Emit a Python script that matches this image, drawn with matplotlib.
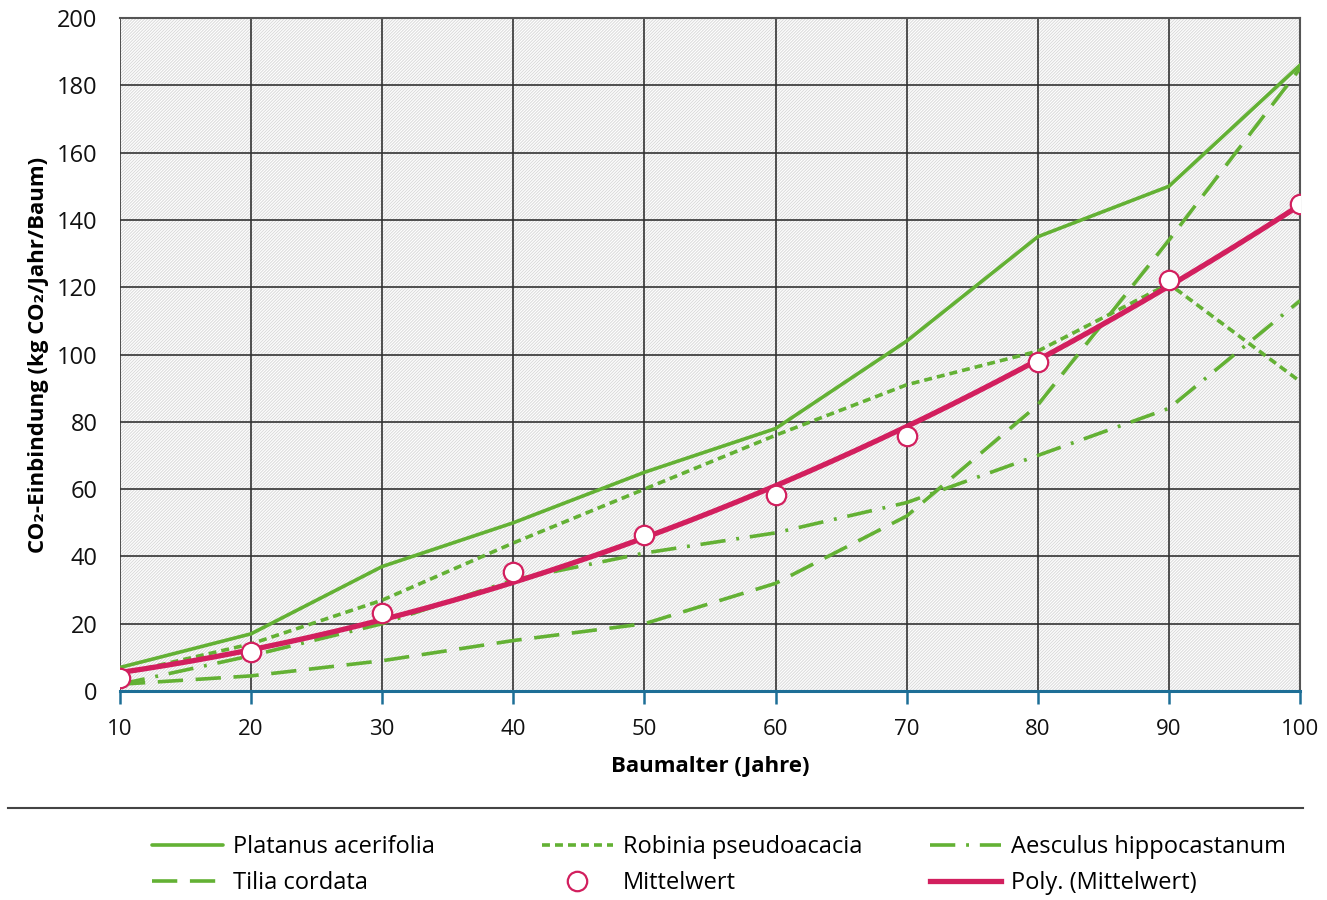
import matplotlib.pyplot as plt
import numpy as np
from matplotlib.patches import Rectangle
from matplotlib.lines import Line2D

plt.rcParams['font.family'] = ['Open Sans', 'DejaVu Sans']
plt.rcParams['hatch.linewidth'] = 0.7
plt.rcParams['hatch.color'] = '#dadada'

# Baumalter (Jahre)
alter = [10, 20, 30, 40, 50, 60, 70, 80, 90, 100]

# CO2-Einbindung in kg CO2/Jahr/Baum
platanus = [7, 17, 37, 50, 65, 78, 104, 135, 150, 186]
robinia = [5, 14, 27, 44, 60, 76, 91, 101, 121, 92]
aesculus = [2, 10.5, 20, 33, 41, 47, 56, 70, 84, 116]
tilia = [2, 4.5, 9, 15, 20, 32, 52, 85, 134, 185]

xticks = [10, 20, 30, 40, 50, 60, 70, 80, 90, 100]
yticks = [0, 20, 40, 60, 80, 100, 120, 140, 160, 180, 200]

green = '#63b134'
pink = '#d21f5e'

mittel = np.mean([platanus, robinia, aesculus, tilia], axis=0)
coef = np.polyfit(alter, mittel, 2)
xs = np.linspace(10, 100, 200)

fig = plt.figure(figsize=(13.27, 9), dpi=100)
ax = fig.add_axes([0.0904, 0.2322, 0.8893, 0.7478])

# hatched background
ax.add_patch(Rectangle((0, 0), 1, 1, transform=ax.transAxes, facecolor='white',
                       hatch='/' * 11, edgecolor='#dadada', linewidth=0, zorder=0))

l1, = ax.plot(alter, platanus, color=green, lw=2.6, solid_capstyle='round', zorder=3)
l2, = ax.plot(alter, robinia, color=green, lw=2.6, dashes=(2.2, 1.4), zorder=3)
l3, = ax.plot(alter, aesculus, color=green, lw=2.6, dashes=(7, 3, 0.8, 3), zorder=3)
l4, = ax.plot(alter, tilia, color=green, lw=2.6, dashes=(7, 3.5), zorder=3)
l6, = ax.plot(xs, np.polyval(coef, xs), color=pink, lw=3.8, zorder=4)
l5, = ax.plot(alter, mittel, ls='none', marker='o', ms=14, mfc='white', mec=pink,
              mew=1.6, zorder=5)

ax.set_xlim(10, 100)
ax.set_ylim(0, 200)
ax.set_xticks(xticks)
ax.set_yticks(yticks)
ax.grid(True, color='#333333', lw=1.2, zorder=1)
ax.set_axisbelow(True)

for s in ['top', 'right']:
    ax.spines[s].set_color('#555555')
    ax.spines[s].set_linewidth(1.5)
ax.spines['left'].set_visible(False)
ax.spines['bottom'].set_color('#1d6e96')
ax.spines['bottom'].set_linewidth(2.2)
ax.spines['bottom'].set_zorder(6)

ax.tick_params(axis='x', colors='#1d6e96', direction='out', length=9, width=1.8,
               labelcolor='#111111', labelsize=16, pad=11)
ax.tick_params(axis='y', length=0, labelsize=17, pad=16, labelcolor='#111111')

ax.set_xlabel('Baumalter (Jahre)', fontsize=16, fontweight='bold', labelpad=12)
ax.set_ylabel('CO\u2082-Einbindung (kg CO\u2082/Jahr/Baum)', fontsize=16,
              fontweight='bold', labelpad=6)

# separator line above legend
fig.add_artist(Line2D([8 / 1327, 1303 / 1327], [1 - 808 / 900] * 2, color='#444444', lw=1.5))

# legend, one column at a time like the original layout
columns = [
    ([l1, l4], ['Platanus acerifolia', 'Tilia cordata'], 152),
    ([l2, l5], ['Robinia pseudoacacia', 'Mittelwert'], 542),
    ([l3, l6], ['Aesculus hippocastanum', 'Poly. (Mittelwert)'], 930),
]
for hs, ls, x0 in columns:
    fig.legend(hs, ls, loc='center left', bbox_to_anchor=(x0 / 1327, 1 - 865 / 900),
               frameon=False, fontsize=17, handlelength=3.0, handletextpad=0.42,
               labelspacing=0.5, borderpad=0, borderaxespad=0)

fig.savefig('out.png', dpi=100)
